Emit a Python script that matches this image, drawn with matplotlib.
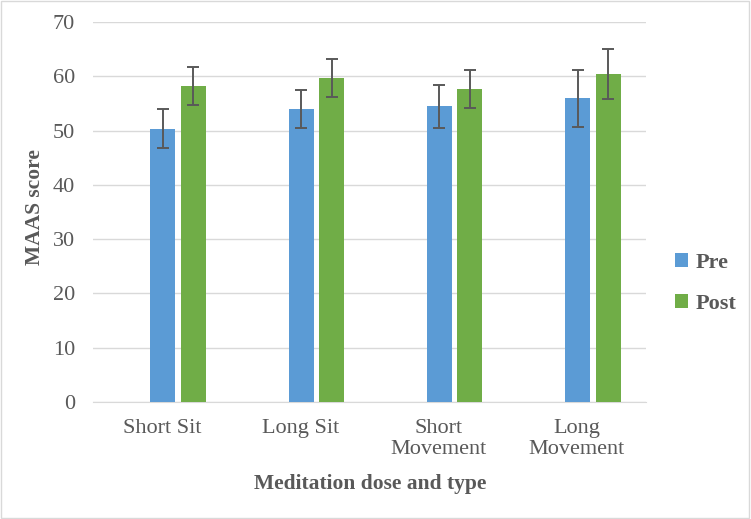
import numpy as np
import matplotlib.pyplot as plt
from matplotlib.patches import Rectangle

plt.rcParams["font.family"] = ["Liberation Serif", "DejaVu Serif"]

categories = ["Short Sit", "Long Sit", "Short\nMovement", "Long\nMovement"]
pre_means = [50.3, 54.0, 54.5, 56.0]
pre_err = [3.6, 3.5, 3.95, 5.25]
post_means = [58.3, 59.7, 57.6, 60.5]
post_err = [3.5, 3.45, 3.5, 4.6]

text_color = "#595959"

fig = plt.figure(figsize=(7.51, 5.19), dpi=100)
ax = fig.add_axes([93 / 751, 1 - 402 / 519, 553 / 751, 380 / 519])

# category centers sit on the Pre bar, Post is shifted to the right
x = np.arange(len(categories)) + 0.5
w = 0.18
err_kw = dict(ecolor=text_color, elinewidth=1.4, capsize=4, capthick=1.4)
ax.bar(x + 0.005, pre_means, w, yerr=pre_err, color="#5b9bd5", label="Pre",
       error_kw=err_kw, zorder=3)
ax.bar(x + 0.226, post_means, w, yerr=post_err, color="#70ad47", label="Post",
       error_kw=err_kw, zorder=3)

ax.set_xlim(0, len(categories))
ax.set_ylim(0, 70)
ax.set_yticks(range(0, 71, 10))
ax.set_xticks(x)
ax.set_xticklabels(categories, linespacing=1.2)
ax.yaxis.grid(True, color="#d9d9d9", linewidth=1, zorder=0)
ax.tick_params(axis="both", length=0, labelsize=16, colors=text_color)
ax.tick_params(axis="y", pad=13)
ax.tick_params(axis="x", pad=12)
for side in ["top", "right", "left"]:
    ax.spines[side].set_visible(False)
ax.spines["bottom"].set_color("#d9d9d9")

ax.set_ylabel("MAAS score", fontsize=15.5, fontweight="bold", color=text_color)
ax.yaxis.label.set_va("center")
ax.yaxis.set_label_coords(-0.104, 0.512)
ax.set_xlabel("Meditation dose and type", fontsize=15.5, fontweight="bold",
              color=text_color)
ax.xaxis.label.set_va("center")
ax.xaxis.set_label_coords(0.502, -0.215)

leg = ax.legend(loc="center left", bbox_to_anchor=(1.017, 0.312), frameon=False,
                prop={"size": 16, "weight": "bold"}, handlelength=0.55,
                handleheight=0.55, handletextpad=0.35, labelspacing=0.95)
for t in leg.get_texts():
    t.set_color(text_color)

fig.patches.append(Rectangle((0.001, 0.001), 0.997, 0.997, transform=fig.transFigure,
                             fill=False, edgecolor="#d9d9d9", linewidth=1))

fig.savefig("out.png", dpi=100)
